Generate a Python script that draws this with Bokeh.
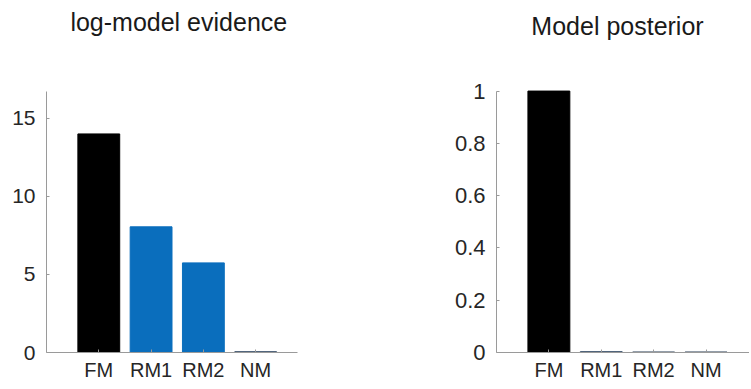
from bokeh.plotting import figure
from bokeh.models import Range1d, FixedTicker, Label, ColumnDataSource
from bokeh.layouts import row
from bokeh.embed import file_html
from bokeh.resources import INLINE

models = ["FM", "RM1", "RM2", "NM"]
log_evidence = [14.0, 8.05, 5.74, 0.05]
posterior = [1.0, 0.003, 0.002, 0.002]
left_ticks = [0, 5, 10, 15]
right_ticks = [0, 0.2, 0.4, 0.6, 0.8, 1.0]
right_tick_labels = ["0", "0.2", "0.4", "0.6", "0.8", "1"]
left_colors = ["#000000", "#0a6ebd", "#0a6ebd", "#0a6ebd"]
left_edges = ["#000000", "#0a6ebd", "#0a6ebd", "#34465e"]
right_colors = ["#000000", "#0a6ebd", "#0a6ebd", "#0a6ebd"]
right_edges = ["#000000", "#34465e", "#34465e", "#34465e"]

FONT = "Liberation Sans"
TXT = "#262626"
AX = "#9a9a9a"


def make_panel(values, colors, edges, yticks, ylabels, ymax, ytop, xmax, width, bl, br,
               title, title_x, title_y, yfont):
    p = figure(width=width, height=387, output_backend="svg", toolbar_location=None,
               x_range=Range1d(0, xmax), y_range=Range1d(0, ytop),
               min_border_left=bl, min_border_right=br, min_border_top=9, min_border_bottom=35)
    xs = list(range(1, len(models) + 1))
    src = ColumnDataSource(dict(x=xs, top=values, fill=colors, edge=edges))
    p.vbar(x="x", top="top", bottom=0, width=0.8, source=src, fill_color="fill",
           line_color="edge", line_width=1)
    p.outline_line_color = None
    p.grid.visible = False
    p.background_fill_color = "white"
    p.border_fill_color = "white"

    p.xaxis.ticker = FixedTicker(ticks=xs)
    p.xaxis.major_label_overrides = {x: m for x, m in zip(xs, models)}
    p.yaxis.ticker = FixedTicker(ticks=yticks)
    p.yaxis.bounds = (0, ymax)
    if ylabels is not None:
        p.yaxis.major_label_overrides = {t: l for t, l in zip(yticks, ylabels)}
    for ax in (p.xaxis[0], p.yaxis[0]):
        ax.axis_line_color = AX
        ax.axis_line_width = 1
        ax.major_tick_line_color = AX
        ax.major_tick_in = 3
        ax.major_tick_out = 0
        ax.minor_tick_line_color = None
        ax.major_label_text_font = FONT
        ax.major_label_text_color = TXT
    p.xaxis.major_label_text_font_size = "20px"
    p.yaxis.major_label_text_font_size = yfont
    p.xaxis.major_label_standoff = 6
    p.yaxis.major_label_standoff = 11

    lab = Label(x=title_x, y=title_y, text=title,
                text_align="center", text_baseline="alphabetic", text_font=FONT,
                text_font_size="25px", text_color="#1a1a1a")
    p.add_layout(lab)
    return p


left = make_panel(log_evidence, left_colors, left_edges, left_ticks, None, 16.7, 21.97, 4.8,
                  327, 46, 30, "log-model evidence", 2.53, 21.2, "21px")
right = make_panel(posterior, right_colors, right_edges, right_ticks, right_tick_labels, 1.0, 1.312,
                   4.83, 422, 169, 0, "Model posterior", 2.31, 1.247, "22px")

p = row(left, right, spacing=0)
open("out.html", "w").write(file_html(p, INLINE))
